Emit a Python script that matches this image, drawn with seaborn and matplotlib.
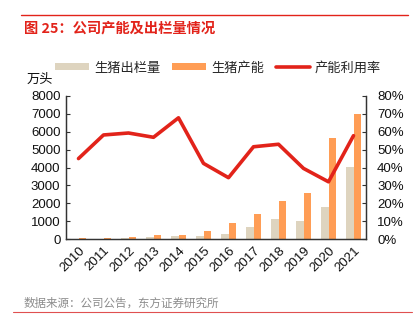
import numpy as np
import pandas as pd
import matplotlib
matplotlib.use("Agg")
import matplotlib.pyplot as plt
from matplotlib.patches import Patch
from matplotlib.lines import Line2D
from matplotlib.ticker import FuncFormatter, MultipleLocator
import seaborn as sns

# Data: annual hog slaughter, capacity (10k head) and capacity utilisation (%)
years = ["2010", "2011", "2012", "2013", "2014", "2015", "2016",
         "2017", "2018", "2019", "2020", "2021"]
slaughter = [10, 20, 50, 110, 170, 170, 300, 690, 1100, 1010, 1800, 4030]
capacity = [45, 75, 130, 210, 250, 430, 900, 1400, 2100, 2580, 5650, 7000]
utilization = [45.0, 58.2, 59.3, 56.9, 67.8, 42.3, 34.3, 51.6, 53.0, 39.5, 32.0, 57.8]

series_names = ["生猪出栏量", "生猪产能", "产能利用率"]
c_beige = "#DED4BF"
c_orange = "#FF9D55"
c_red = "#E2231A"

sns.set_theme(style="white")
plt.rcParams["font.family"] = ["Liberation Sans", "Noto Sans CJK SC", "DejaVu Sans"]

df = pd.DataFrame({
    "year": years * 2,
    "value": slaughter + capacity,
    "series": [series_names[0]] * len(years) + [series_names[1]] * len(years),
})

fig = plt.figure(figsize=(4.16, 3.26), dpi=100)
ax = fig.add_axes([66 / 416, 1 - 239 / 326, 300 / 416, 143 / 326])

sns.barplot(data=df, x="year", y="value", hue="series", ax=ax,
            palette=[c_beige, c_orange], width=0.58, gap=0,
            saturation=1, legend=False, edgecolor="none")

ax2 = ax.twinx()
sns.lineplot(x=np.arange(len(years)), y=utilization, ax=ax2,
             color=c_red, lw=2.6, legend=False)

ax.set_xlim(-0.5, len(years) - 0.5)
ax.set_ylim(0, 8000)
ax2.set_ylim(0, 80)
ax.yaxis.set_major_locator(MultipleLocator(1000))
ax2.yaxis.set_major_locator(MultipleLocator(10))
ax2.yaxis.set_major_formatter(FuncFormatter(lambda v, p: f"{v:.0f}%"))

ax.set_xlabel("")
ax.set_ylabel("")
ax2.set_ylabel("")

# category boundary ticks on the x axis, labels at category centres
ax.set_xticks(np.arange(len(years)))
ax.set_xticklabels(years, rotation=45, ha="right", rotation_mode="anchor",
                   fontsize=9.5, color="#111111")
ax.set_xticks(np.arange(len(years) + 1) - 0.5, minor=True)
ax.tick_params(axis="x", which="major", length=0, pad=4)
ax.tick_params(axis="x", which="minor", length=3, direction="in",
               color="#333333", width=0.8)
ax.tick_params(axis="y", length=3, direction="in", labelsize=9.5,
               color="#333333", width=0.8, labelcolor="#111111", pad=4)
ax2.tick_params(axis="y", length=3, direction="in", labelsize=9.5,
                color="#333333", width=0.8, labelcolor="#111111", pad=8)

for a in (ax, ax2):
    a.spines["top"].set_visible(False)
    for s in ("left", "right", "bottom"):
        a.spines[s].set_color("#333333")
        a.spines[s].set_linewidth(0.9)
    a.grid(False)

fig.text(40 / 416, 1 - 80 / 326, "万头", fontsize=9.5, ha="center",
         va="center", color="#111111")

handles = [Patch(facecolor=c_beige, edgecolor="none"),
           Patch(facecolor=c_orange, edgecolor="none"),
           Line2D([], [], color=c_red, lw=2.6)]
fig.legend(handles, series_names, loc="center", ncol=3,
           bbox_to_anchor=(218 / 416, 1 - 68 / 326), frameon=False,
           fontsize=9.5, handlelength=2.6, handleheight=0.45,
           columnspacing=0.9, handletextpad=0.35)

# header and footer
fig.add_artist(Line2D([21 / 416, 408 / 416], [1 - 15 / 326, 1 - 15 / 326],
                      color=c_red, lw=1.0, transform=fig.transFigure))
fig.text(24 / 416, 1 - 28 / 326, "图 25：公司产能及出栏量情况",
         fontsize=10.3, fontweight="bold", color=c_red, va="center", ha="left",
         family=["Noto Sans CJK SC", "DejaVu Sans"])
fig.text(24 / 416, 1 - 303 / 326, "数据来源：公司公告，东方证券研究所",
         fontsize=8.3, color="#8C8C8C", va="center", ha="left",
         family=["Noto Sans CJK SC", "DejaVu Sans"])
fig.add_artist(Line2D([13 / 416, 412 / 416], [1 - 312 / 326, 1 - 312 / 326],
                      color="#E05050", lw=0.8, transform=fig.transFigure))

fig.savefig("out.png", dpi=100)
